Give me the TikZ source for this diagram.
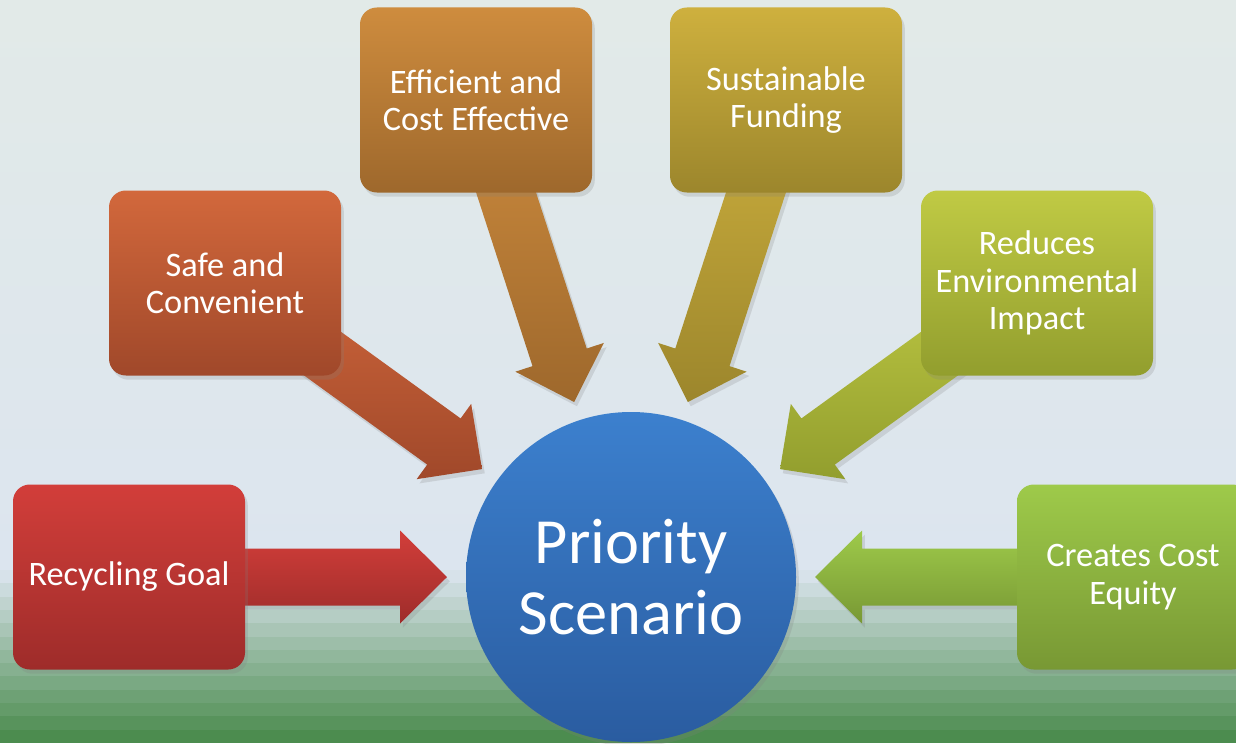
\documentclass[tikz,border=0pt]{standalone}
\usepackage{fontspec}
\setmainfont{Carlito}
\usepackage{tikz}
\usetikzlibrary{calc, shadows}
\definecolor{PSRed}{RGB}{210,62,58}
\definecolor{PSRedDk}{RGB}{158,44,42}
\definecolor{PSRust}{RGB}{210,104,60}
\definecolor{PSRustDk}{RGB}{160,72,42}
\definecolor{PSAmber}{RGB}{206,140,62}
\definecolor{PSAmberDk}{RGB}{158,104,44}
\definecolor{PSGold}{RGB}{206,176,62}
\definecolor{PSGoldDk}{RGB}{156,134,44}
\definecolor{PSOlive}{RGB}{192,202,68}
\definecolor{PSOliveDk}{RGB}{146,158,46}
\definecolor{PSLime}{RGB}{158,202,74}
\definecolor{PSLimeDk}{RGB}{120,152,52}
\definecolor{PSBlue}{RGB}{60,128,206}
\definecolor{PSBlueDk}{RGB}{42,92,160}
\definecolor{PSSky}{RGB}{226,234,232}
\definecolor{PSMist}{RGB}{220,229,239}
\definecolor{PSGrass}{RGB}{70,136,72}
\pgfdeclarelayer{back}
\pgfsetlayers{back,main}

\begin{document}
\begin{tikzpicture}[
          box/.style={rectangle, rounded corners=0.42cm, minimum width=5.8cm,
                      minimum height=4.625cm, align=center, text=white,
                      font=\fontsize{24.4}{26.5}\selectfont,
                      drop shadow={opacity=0.22, shadow xshift=2pt, shadow yshift=-3pt}},
          fat/.style={drop shadow={opacity=0.22, shadow xshift=2pt, shadow yshift=-3pt},
                      to path={
            let \p1=(\tikztostart), \p2=(\tikztotarget),
                \n1={atan2(\y2-\y1,\x2-\x1)} in
            ($(\p1)+(\n1+90:0.7125cm)$)
            -- ($(\p2)+(\n1+180:5.775cm)+(\n1+90:0.7125cm)$)
            -- ($(\p2)+(\n1+180:5.775cm)+(\n1+90:1.1625cm)$)
            -- ($(\p2)+(\n1+180:4.6cm)$)
            -- ($(\p2)+(\n1+180:5.775cm)+(\n1-90:1.1625cm)$)
            -- ($(\p2)+(\n1+180:5.775cm)+(\n1-90:0.7125cm)$)
            -- ($(\p1)+(\n1-90:0.7125cm)$) -- cycle}}
        ]
        \useasboundingbox (0,0) rectangle (30.9,18.575);

        % backdrop: pale sky, banded green ground
        \begin{pgfonlayer}{back}
          \shade[top color=PSSky, bottom color=PSMist] (0,4.3) rectangle (30.9,18.575);
          \foreach \i in {0,...,12} {
            \pgfmathtruncatemacro{\mix}{(\i+0.5)*100/13}
            \fill[PSGrass!\mix!PSMist] (0,4.325-\i*0.3327) rectangle (30.9,4.325-\i*0.3327-0.34);
          }
        \end{pgfonlayer}

        \node[circle, minimum size=8.25cm, align=center, text=white,
              top color=PSBlue, bottom color=PSBlueDk,
              font=\fontsize{45.8}{50}\selectfont,
              drop shadow={opacity=0.22, shadow xshift=2pt, shadow yshift=-3pt}]
              (prio) at (15.775, 4.15) {Priority\\Scenario};

        \node[box, top color=PSRed,   bottom color=PSRedDk]   (goal) at (3.225, 4.15)   {Recycling Goal};
        \node[box, top color=PSRust,  bottom color=PSRustDk]  (safe) at (5.625, 11.5)   {Safe and\\Convenient};
        \node[box, top color=PSAmber, bottom color=PSAmberDk] (cost) at (11.9, 16.075)  {Efficient and\\Cost Effective};
        \node[box, top color=PSGold,  bottom color=PSGoldDk]  (fund) at (19.65, 16.075) {Sustainable\\Funding};
        \node[box, top color=PSOlive, bottom color=PSOliveDk] (env)  at (25.925, 11.5)  {Reduces\\Environmental\\Impact};
        \node[box, top color=PSLime,  bottom color=PSLimeDk]  (eq)   at (28.325, 4.15)  {Creates Cost\\Equity};

        \begin{pgfonlayer}{back}
          \path[fat, top color=PSRed,   bottom color=PSRedDk]   (goal) to (prio);
          \path[fat, top color=PSRust,  bottom color=PSRustDk]  (safe) to (prio);
          \path[fat, top color=PSAmber, bottom color=PSAmberDk] (cost) to (prio);
          \path[fat, top color=PSGold,  bottom color=PSGoldDk]  (fund) to (prio);
          \path[fat, top color=PSOlive, bottom color=PSOliveDk] (env)  to (prio);
          \path[fat, top color=PSLime,  bottom color=PSLimeDk]  (eq)   to (prio);
        \end{pgfonlayer}
      \end{tikzpicture}
\end{document}
